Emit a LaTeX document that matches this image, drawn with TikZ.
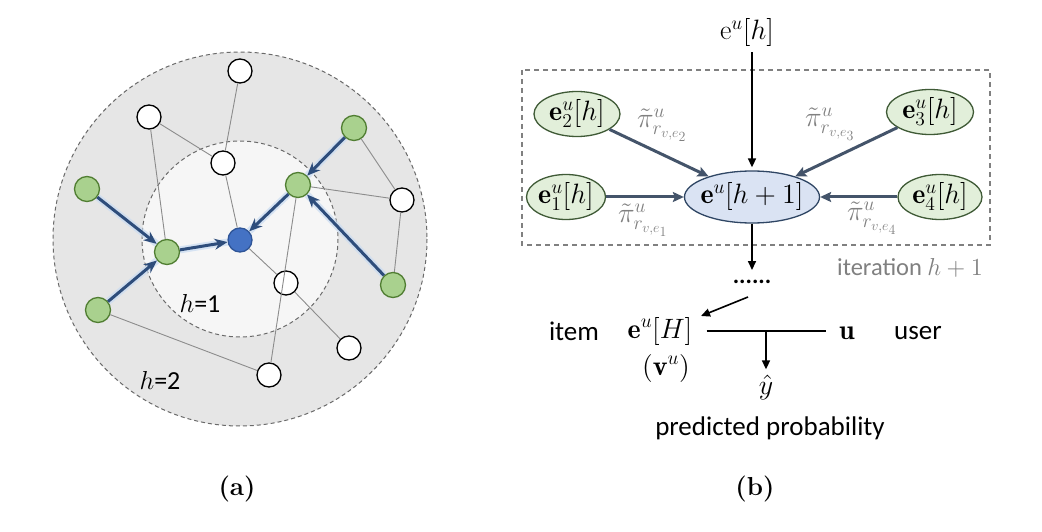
\documentclass[tikz,border=0pt]{standalone}
\DeclareFontShape{OML}{cmm}{m}{it}{<->cmmi12}{}
\DeclareFontShape{OMS}{cmsy}{m}{n}{<->cmsy10}{}
\DeclareFontShape{OMX}{cmex}{m}{n}{<->cmex10}{}
\DeclareFontShape{OT1}{cmr}{m}{n}{<->cmr12}{}
\DeclareFontShape{OT1}{cmr}{bx}{n}{<->cmbx12}{}
\DeclareFontShape{OT1}{cmr}{m}{it}{<->cmti12}{}
\usepackage{fontspec}
\setsansfont{Carlito}
\usetikzlibrary{arrows.meta,shapes.geometric}
\definecolor{outerg}{HTML}{E6E6E6}
\definecolor{innerg}{HTML}{F6F6F6}
\definecolor{dashg}{HTML}{6A6A6A}
\definecolor{edgeg}{HTML}{8C8C8C}
\definecolor{gfill}{HTML}{A9D18E}
\definecolor{gdraw}{HTML}{507E32}
\definecolor{bfill}{HTML}{4472C4}
\definecolor{bdraw}{HTML}{2F5597}
\definecolor{arrb}{HTML}{2E4D7B}
\definecolor{halo}{HTML}{C9DCF2}
\definecolor{lgfill}{HTML}{E2EFDA}
\definecolor{lgdraw}{HTML}{3F5A36}
\definecolor{lbfill}{HTML}{DAE3F3}
\definecolor{lbdraw}{HTML}{2F4664}
\definecolor{slate}{HTML}{44546A}
\definecolor{labg}{HTML}{808080}
\begin{document}
\begin{tikzpicture}[x=1pt,y=-1pt,
  wn/.style={circle,draw=black,fill=white,line width=1.3pt,minimum size=24pt,inner sep=0pt},
  gn/.style={circle,draw=gdraw,fill=gfill,line width=1.3pt,minimum size=25pt,inner sep=0pt},
  bn/.style={circle,draw=bdraw,fill=bfill,line width=1.3pt,minimum size=24pt,inner sep=0pt},
  gedge/.style={draw=edgeg,line width=0.9pt},
  barrow/.style={draw=arrb,line width=3pt,-{Stealth[length=13pt,width=11pt]},
     preaction={draw=halo,line width=7pt,opacity=0.7,-}},
  lgell/.style={ellipse,draw=lgdraw,fill=lgfill,line width=1.3pt,minimum height=45pt,inner sep=0pt,
     font=\fontsize{28}{32}\selectfont},
  cell/.style={ellipse,draw=lbdraw,fill=lbfill,line width=1.3pt,minimum width=135pt,minimum height=52pt,
     inner xsep=-10pt,inner ysep=0pt,font=\fontsize{28}{32}\selectfont},
  sarr/.style={draw=slate,line width=3pt,-{Stealth[length=11pt,width=10pt,inset=2pt]}},
  blk/.style={draw=black,line width=1.6pt,-{Triangle[length=9pt,width=8pt]}},
  pilab/.style={text=labg,font=\fontsize{28}{30}\selectfont,inner sep=0pt},
  mtxt/.style={font=\fontsize{28}{32}\selectfont,inner sep=0pt},
  stxt/.style={font=\sffamily\fontsize{27}{31}\selectfont,inner sep=0pt},
  captxt/.style={font=\bfseries\fontsize{26}{30}\selectfont}
]
\useasboundingbox (0,0) rectangle (1042,532);
\fill[white] (0,0) rectangle (1042,532);

% ---------- (a) ----------
\draw[fill=outerg,draw=dashg,line width=1pt,dash pattern=on 4pt off 3pt] (240,239) circle (187);
\draw[fill=innerg,draw=dashg,line width=1pt,dash pattern=on 4pt off 3pt] (240,239) circle (98);

\node[wn] (W1) at (240,71) {};
\node[wn] (W2) at (149,117) {};
\node[wn] (W3) at (223,163) {};
\node[gn] (G1) at (354,128) {};
\node[gn] (G2) at (298,185) {};
\node[wn] (W4) at (402,200) {};
\node[gn] (G3) at (87,189) {};
\node[gn] (G4) at (167,252) {};
\node[bn] (B)  at (240,240) {};
\node[wn] (W5) at (286,283) {};
\node[gn] (G5) at (393,285) {};
\node[gn] (G6) at (98,310) {};
\node[wn] (W6) at (349,348) {};
\node[wn] (W7) at (269,375) {};

\draw[gedge] (W1) -- (W3);
\draw[gedge] (W2) -- (W3);
\draw[gedge] (W2) -- (G4);
\draw[gedge] (W3) -- (B);
\draw[gedge] (G1) -- (W4);
\draw[gedge] (G2) -- (W4);
\draw[gedge] (W4) -- (G5);
\draw[gedge] (G2) -- (W7);
\draw[gedge] (B) -- (W5);
\draw[gedge] (W5) -- (W6);
\draw[gedge] (G6) -- (W7);

\draw[barrow] (G3) -- (G4);
\draw[barrow] (G6) -- (G4);
\draw[barrow] (G4) -- (B);
\draw[barrow] (G2) -- (B);
\draw[barrow] (G1) -- (G2);
\draw[barrow] (G5) -- (G2);

\node[stxt,font=\sffamily\fontsize{26}{30}\selectfont] (h1) at (200,303) {$h$=1};
\node[stxt,font=\sffamily\fontsize{26}{30}\selectfont] (h2) at (160,380) {$h$=2};
\node[captxt] (capa) at (237,489) {(a)};

% ---------- (b) ----------
\draw[draw=labg,line width=1.2pt,dash pattern=on 5pt off 4pt] (522,70) rectangle (990,245);

\node[mtxt] (top) at (747,33) {$\mathrm{e}^u[h]$};
\node[cell] (c) at (752,197) {$\mathbf{e}^u[h+1]$};
\node[lgell,minimum width=86pt] (e2) at (577,114) {$\mathbf{e}_2^u[h]$};
\node[lgell,minimum width=79pt] (e1) at (566,197) {$\mathbf{e}_1^u[h]$};
\node[lgell,minimum width=87pt] (e3) at (930,112) {$\mathbf{e}_3^u[h]$};
\node[lgell,minimum width=84pt] (e4) at (940,197) {$\mathbf{e}_4^u[h]$};

\draw[blk,shorten <=5pt,shorten >=3pt] (top.south -| c.north) -- (c.north);
\draw[sarr] (e1) -- (c);
\draw[sarr] (e2) -- (c);
\draw[sarr] (e3) -- (c);
\draw[sarr] (e4) -- (c);

\node[pilab] (p2) at (662,125) {$\tilde{\pi}^u_{r_{v,e_2}}$};
\node[pilab] (p3) at (830,124) {$\tilde{\pi}^u_{r_{v,e_3}}$};
\node[pilab] (p1) at (643,220) {$\tilde{\pi}^u_{r_{v,e_1}}$};
\node[pilab] (p4) at (872,218) {$\tilde{\pi}^u_{r_{v,e_4}}$};
\node[text=labg,font=\sffamily\fontsize{24.5}{28}\selectfont] (iter) at (910,268) {iteration $h+1$};

\node[font=\sffamily\bfseries\fontsize{24}{28}\selectfont,inner sep=0pt] (dots) at (752,282) {......};
\draw[blk,shorten >=10pt] (c.south) -- (dots.north);

\node[mtxt] (eH) at (660,331) {$\mathbf{e}^u[H]$};
\node[mtxt] (vu) at (666,368) {$(\mathbf{v}^u)$};
\node[mtxt] (u) at (847,333) {$\mathbf{u}$};
\node[stxt] (item) at (574,331) {item};
\node[stxt] (user) at (918,333) {user};
\node[mtxt] (yhat) at (766,387) {$\hat{y}$};
\node[stxt] (pp) at (770,428) {predicted probability};

\coordinate (a1) at (748,297);
\coordinate (a2) at (701,316);
\draw[blk] (a1) -- (a2);
\coordinate (j) at (766,331);
\draw[draw=black,line width=1.6pt] ([xshift=14pt]eH.east) -- ([xshift=-13pt]u.west |- eH.east);
\draw[blk,shorten >=5pt] (j) -- (yhat.north);

\node[captxt] (capb) at (755,489) {(b)};
\end{tikzpicture}
\end{document}
